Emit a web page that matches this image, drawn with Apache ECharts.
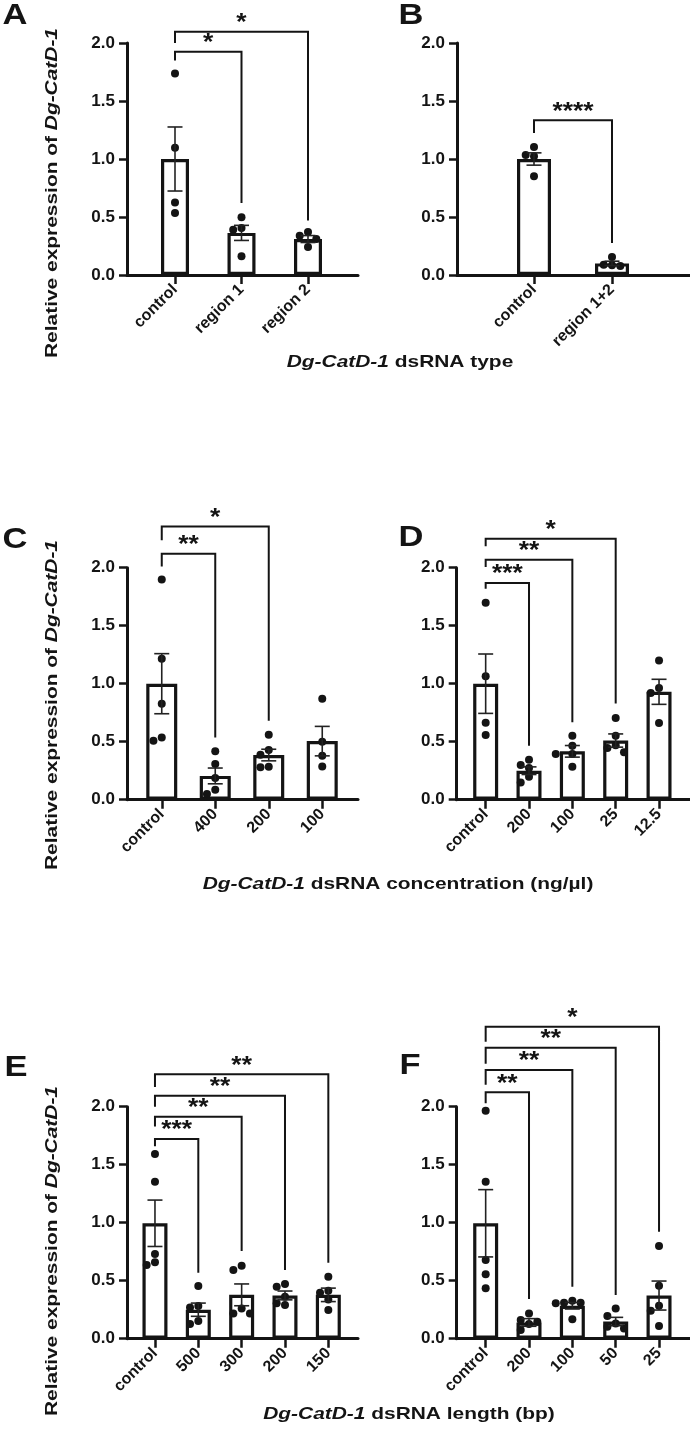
<!DOCTYPE html>
<html>
<head>
<meta charset="utf-8">
<title>Dg-CatD-1 relative expression</title>
<script src="https://cdn.jsdelivr.net/npm/echarts@6.0.0/dist/echarts.min.js"></script>
<style>
  html, body { margin: 0; padding: 0; background: #fff; }
  #main { width: 690px; height: 1440px; }
</style>
</head>
<body>
<div id="main"></div>
<script>
// values: mean, SEM and the single replicates per group
// brackets: [fromIndex, toIndex, level, leftLegEnd, rightLegEnd]
const catsA = ["control", "region 1", "region 2"];
const meanA = [1.0, 0.363, 0.31];
const semA = [0.276, 0.065, 0.03];
const ptsA = [[1.736, 1.098, 0.626, 0.534], [0.497, 0.405, 0.391, 0.161], [0.371, 0.339, 0.31, 0.241]];
const sigA = [[0, 2, 2.097, 2.0, 0.47], [0, 1, 1.925, 1.85, 0.62]];
const starsA = ["*", "*"];

const catsB = ["control", "region 1+2"];
const meanB = [1.0, 0.1];
const semB = [0.053, 0.019];
const ptsB = [[1.103, 1.034, 1.023, 0.851], [0.155, 0.089, 0.083, 0.078]];
const sigB = [[0, 1, 1.333, 1.224, 0.276]];
const starsB = ["****"];

const catsC = ["control", "400", "200", "100"];
const meanC = [1.0, 0.205, 0.385, 0.505];
const semC = [0.259, 0.068, 0.05, 0.127];
const ptsC = [[1.899, 1.216, 0.828, 0.537, 0.509], [0.417, 0.307, 0.187, 0.086, 0.049],
  [0.56, 0.428, 0.388, 0.284, 0.279], [0.871, 0.5, 0.379, 0.287]];
const sigC = [[0, 2, 2.356, 2.236, 0.681], [0, 1, 2.121, 2.011, 0.537]];
const starsC = ["*", "**"];

const catsD = ["control", "200", "100", "25", "12.5"];
const meanD = [1.0, 0.25, 0.417, 0.51, 0.93];
const semD = [0.256, 0.033, 0.05, 0.057, 0.108];
const ptsD = [[1.698, 1.065, 0.664, 0.557], [0.345, 0.299, 0.273, 0.198, 0.149],
  [0.552, 0.466, 0.394, 0.394, 0.284], [0.704, 0.552, 0.47, 0.445, 0.408], [1.201, 0.963, 0.92, 0.661]];
const sigD = [[0, 3, 2.25, 2.184, 0.83], [0, 2, 2.069, 2.006, 0.667], [0, 1, 1.868, 1.819, 0.466]];
const starsD = ["*", "**", "***"];

const catsE = ["control", "500", "300", "200", "150"];
const meanE = [0.995, 0.25, 0.378, 0.373, 0.378];
const semE = [0.2, 0.057, 0.094, 0.038, 0.058];
const ptsE = [[1.592, 1.353, 0.73, 0.658, 0.635], [0.454, 0.282, 0.27, 0.152, 0.126],
  [0.629, 0.592, 0.261, 0.218, 0.218], [0.471, 0.448, 0.362, 0.305, 0.29], [0.534, 0.414, 0.397, 0.339, 0.247]];
const sigE = [[0, 4, 2.279, 2.17, 0.655], [0, 3, 2.095, 2.0, 0.592], [0, 2, 1.914, 1.83, 0.756], [0, 1, 1.721, 1.66, 0.569]];
const starsE = ["**", "**", "**", "***"];

const catsF = ["control", "200", "100", "50", "25"];
const meanF = [0.995, 0.14, 0.284, 0.148, 0.372];
const semF = [0.29, 0.033, 0.028, 0.036, 0.125];
const ptsF = [[1.966, 1.353, 0.678, 0.555, 0.434], [0.218, 0.161, 0.147, 0.126, 0.075],
  [0.328, 0.31, 0.31, 0.305, 0.167], [0.261, 0.195, 0.132, 0.103, 0.089], [0.799, 0.457, 0.284, 0.241, 0.109]];
const sigF = [[0, 4, 2.69, 2.56, 0.922], [0, 3, 2.509, 2.37, 0.376], [0, 2, 2.316, 2.19, 0.448], [0, 1, 2.124, 2.03, 0.342]];
const starsF = ["*", "**", "**", "**"];

const yTicks = [0, 0.5, 1.0, 1.5, 2.0];

// layout of each panel (pixels)
const panels = [
  { letter: "A", cats: catsA, mean: meanA, sem: semA, pts: ptsA, sig: sigA, stars: starsA, frame: [127, 231], plot: [141.75, 199.5], top: 43, barW: 28, lx: 15, ly: 16 },
  { letter: "B", cats: catsB, mean: meanB, sem: semB, pts: ptsB, sig: sigB, stars: starsB, frame: [457, 233], plot: [495, 156], top: 43, barW: 34, lx: 411, ly: 16 },
  { letter: "C", cats: catsC, mean: meanC, sem: semC, pts: ptsC, sig: sigC, stars: starsC, frame: [127, 231], plot: [135, 214], top: 567.7, barW: 31, lx: 15, ly: 540 },
  { letter: "D", cats: catsD, mean: meanD, sem: semD, pts: ptsD, sig: sigD, stars: starsD, frame: [456.7, 233.3], plot: [464, 216.7], top: 567.7, barW: 25, lx: 411, ly: 538 },
  { letter: "E", cats: catsE, mean: meanE, sem: semE, pts: ptsE, sig: sigE, stars: starsE, frame: [127, 231], plot: [133.3, 216.7], top: 1106.7, barW: 25, lx: 16, ly: 1068 },
  { letter: "F", cats: catsF, mean: meanF, sem: semF, pts: ptsF, sig: sigF, stars: starsF, frame: [456.7, 233.3], plot: [464, 216.7], top: 1106.7, barW: 25, lx: 410, ly: 1066 }
];
const plotH = 232;
const ink = "#141414";
const fam = '"Liberation Sans", Arial, sans-serif';
const DOT_R = 4;

const myChart = echarts.init(document.getElementById("main"), null, { renderer: "canvas" });

// spread replicates sideways when they would overlap (pixel space)
function swarm(api, idx, vals) {
  const placed = [];
  const cx = api.coord([idx, 0])[0];
  const d = DOT_R * 2 + 0.3;
  return vals.map(function (v) {
    const y = api.coord([idx, v])[1];
    let x = cx;
    for (let k = 0; k < 12; k++) {
      const o = k === 0 ? 0 : (k % 2 ? -1 : 1) * Math.ceil(k / 2) * d;
      if (placed.every(p => Math.hypot(p[0] - (cx + o), p[1] - y) >= d)) { x = cx + o; break; }
    }
    placed.push([x, y]);
    return [x, y];
  });
}

const grid = [], xAxis = [], yAxis = [], series = [], graphic = [];

panels.forEach(function (p, i) {
  const f = 2 * i, g = 2 * i + 1;
  grid.push({ left: p.frame[0], width: p.frame[1], top: p.top, height: plotH, outerBoundsMode: "none" });
  grid.push({ left: p.plot[0], width: p.plot[1], top: p.top, height: plotH, outerBoundsMode: "none" });

  xAxis.push({
    gridIndex: f, type: "value", min: 0, max: 1,
    axisLine: { show: true, lineStyle: { color: ink, width: 3 } },
    axisTick: { show: false }, axisLabel: { show: false }, splitLine: { show: false }
  });
  xAxis.push({
    gridIndex: g, type: "category", data: p.cats,
    axisLine: { show: false },
    axisTick: { show: true, alignWithLabel: true, length: 9, lineStyle: { color: ink, width: 2.5 } },
    axisLabel: { interval: 0, rotate: 45, margin: 12, color: ink, fontSize: 16, fontWeight: "bold", fontFamily: fam }
  });
  yAxis.push({
    gridIndex: f, type: "value", min: yTicks[0], max: yTicks[yTicks.length - 1], interval: 0.5,
    axisLine: { show: true, lineStyle: { color: ink, width: 3 } },
    axisTick: { show: true, length: 8, lineStyle: { color: ink, width: 2.5 } },
    axisLabel: { margin: 12, color: ink, fontSize: 17, fontWeight: "bold", fontFamily: fam, formatter: v => v.toFixed(1) },
    splitLine: { show: false }
  });
  yAxis.push({ gridIndex: g, type: "value", min: 0, max: 2, show: false });

  series.push({
    type: "bar", xAxisIndex: g, yAxisIndex: g, data: p.mean, barWidth: p.barW, z: 2,
    itemStyle: { color: "#fff", borderColor: ink, borderWidth: 3.2 }, silent: true
  });

  series.push({
    type: "custom", xAxisIndex: g, yAxisIndex: g, z: 4, silent: true,
    data: p.pts.map((_, k) => [k, p.mean[k]]),
    renderItem: function (params, api) {
      const k = params.dataIndex;
      return {
        type: "group",
        children: swarm(api, k, p.pts[k]).map(c => ({
          type: "circle", shape: { cx: c[0], cy: c[1], r: DOT_R }, style: { fill: ink }
        }))
      };
    }
  });

  series.push({
    type: "custom", xAxisIndex: g, yAxisIndex: g, z: 5, silent: true,
    data: p.mean.map((m, k) => [k, m + p.sem[k], m - p.sem[k]]),
    renderItem: function (params, api) {
      const hi = api.coord([api.value(0), api.value(1)]);
      const lo = api.coord([api.value(0), api.value(2)]);
      const w = 7.5;
      const st = { stroke: "#222", lineWidth: 1.6 };
      return {
        type: "group", children: [
          { type: "line", shape: { x1: hi[0], y1: hi[1], x2: lo[0], y2: lo[1] }, style: st },
          { type: "line", shape: { x1: hi[0] - w, y1: hi[1], x2: hi[0] + w, y2: hi[1] }, style: st },
          { type: "line", shape: { x1: lo[0] - w, y1: lo[1], x2: lo[0] + w, y2: lo[1] }, style: st }
        ]
      };
    }
  });

  series.push({
    type: "custom", xAxisIndex: g, yAxisIndex: g, z: 5, silent: true, clip: false,
    data: p.sig,
    renderItem: function (params, api) {
      const a = api.coord([api.value(0), api.value(2)]);
      const b = api.coord([api.value(1), api.value(2)]);
      const la = api.coord([api.value(0), api.value(3)]);
      const rb = api.coord([api.value(1), api.value(4)]);
      return {
        type: "group", children: [
          { type: "polyline", shape: { points: [[la[0], la[1]], a, b, [rb[0], rb[1]]] },
            style: { stroke: ink, lineWidth: 2, fill: null } },
          { type: "text", x: (a[0] + b[0]) / 2, y: a[1] - 8, scaleX: 1.15,
            style: { text: p.stars[params.dataIndex], fill: ink, align: "center", verticalAlign: "middle",
              font: "bold 23px " + fam } }
        ]
      };
    }
  });

  graphic.push({
    type: "text", x: p.lx, y: p.ly, scaleX: 1.15,
    style: { text: p.letter, fill: ink, align: "center", verticalAlign: "middle", font: "bold 30px " + fam }
  });
});

// axis titles shared by each row
const rich = { i: { fontStyle: "italic", fontWeight: "bold", fontSize: 17, fontFamily: fam, fill: ink } };
function title(text, x, y, vertical) {
  return {
    type: "text", x: x, y: y, rotation: vertical ? Math.PI / 2 : 0, scaleX: 1.23,
    style: { text: text, rich: rich, fill: ink, align: "center", verticalAlign: "middle", font: "bold 17px " + fam }
  };
}
const yName = "Relative expression of {i|Dg-CatD-1}";
graphic.push(title(yName, 52, 193, true));
graphic.push(title(yName, 52, 705, true));
graphic.push(title(yName, 52, 1251, true));
graphic.push(title("{i|Dg-CatD-1} dsRNA type", 400, 362));
graphic.push(title("{i|Dg-CatD-1} dsRNA concentration (ng/µl)", 398, 884));
graphic.push(title("{i|Dg-CatD-1} dsRNA length (bp)", 409, 1414));

const option = {
  backgroundColor: "#fff",
  animation: false,
  grid: grid,
  xAxis: xAxis,
  yAxis: yAxis,
  series: series,
  graphic: graphic
};
myChart.setOption(option);
</script>
</body>
</html>
